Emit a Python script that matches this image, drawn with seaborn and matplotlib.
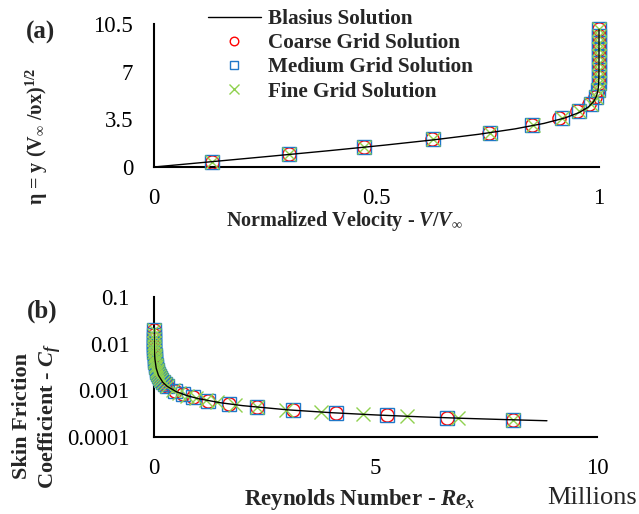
import matplotlib
matplotlib.use("Agg")
import matplotlib.pyplot as plt
import numpy as np
import pandas as pd
import seaborn as sns
from matplotlib.ticker import FixedLocator, FuncFormatter, NullLocator

# ---------------- Panel (a): velocity profile ----------------
blasius_eta = [0, 0.4, 0.8, 1.2, 1.6, 2.0, 2.4, 2.8, 3.2, 3.6, 4.0, 4.4, 4.8,
               5.2, 5.6, 6.0, 6.5, 7.0, 8.0, 9.0, 10.1]
blasius_u = [0, 0.1328, 0.2647, 0.3938, 0.5168, 0.6298, 0.7290, 0.8115, 0.8761,
             0.9233, 0.9555, 0.9759, 0.9878, 0.9943, 0.9975, 0.9990, 0.9997,
             0.9999, 1.0, 1.0, 1.0]

grid_eta = [0.37, 0.95, 1.47, 2.06, 2.50, 3.08, 3.60, 4.11, 4.63, 5.14,
            5.64, 6.14, 6.64, 7.14, 7.64, 8.14, 8.64, 9.14, 9.64, 10.1]
coarse_u = [0.130, 0.303, 0.472, 0.625, 0.753, 0.849, 0.909, 0.950, 0.977, 0.991,
            0.997, 0.999, 1.0, 1.0, 1.0, 1.0, 1.0, 1.0, 1.0, 1.0]
medium_u = [0.131, 0.304, 0.473, 0.626, 0.754, 0.850, 0.917, 0.956, 0.982, 0.994,
            0.998, 1.0, 1.0, 1.0, 1.0, 1.0, 1.0, 1.0, 1.0, 1.0]
fine_u = [0.131, 0.304, 0.473, 0.626, 0.754, 0.851, 0.916, 0.955, 0.981, 0.994,
          0.998, 1.0, 1.0, 1.0, 1.0, 1.0, 1.0, 1.0, 1.0, 1.0]

# ---------------- Panel (b): skin friction ----------------
blasius_re = [0.001, 0.002, 0.005, 0.01, 0.02, 0.05, 0.1, 0.2, 0.3, 0.5, 0.75,
              1.0, 1.5, 2.0, 3.0, 4.0, 5.0, 6.0, 7.0, 8.0, 8.87]
blasius_cf = [0.0210, 0.01485, 0.00939, 0.00664, 0.004695, 0.00297, 0.0021,
              0.001485, 0.001212, 0.000939, 0.000767, 0.000664, 0.000542,
              0.00047, 0.000383, 0.000332, 0.000297, 0.000271, 0.000251,
              0.000235, 0.000223]

cm_re = [0.0011, 0.0018, 0.0028, 0.004, 0.0055, 0.0075, 0.01, 0.013, 0.017,
         0.022, 0.028, 0.036, 0.046, 0.058, 0.073, 0.09, 0.11, 0.135, 0.165,
         0.2, 0.24, 0.29, 0.47, 0.65, 0.87, 1.23, 1.70, 2.32, 3.13, 4.11,
         5.27, 6.62, 8.10]
cm_cf = [0.02002, 0.01565, 0.01255, 0.0105, 0.00895, 0.00767, 0.00664, 0.00582,
         0.00509, 0.00448, 0.00397, 0.0035, 0.0031, 0.00276, 0.00246, 0.00221,
         0.002, 0.00181, 0.00163, 0.00148, 0.00136, 0.00123, 0.000969,
         0.000824, 0.000712, 0.000599, 0.000509, 0.000436, 0.000375,
         0.000328, 0.000289, 0.000258, 0.000233]

fine_re = [0.0011, 0.0018, 0.0028, 0.004, 0.0055, 0.0075, 0.01, 0.013, 0.017,
           0.022, 0.028, 0.036, 0.046, 0.058, 0.073, 0.09, 0.11, 0.135, 0.165,
           0.2, 0.24, 0.30, 0.42, 0.56, 0.74, 0.95, 1.17, 1.42, 1.83, 2.32,
           2.98, 3.76, 4.71, 5.70, 6.87, 8.10]
fine_cf = [0.02002, 0.01565, 0.01255, 0.0105, 0.00895, 0.00767, 0.00664,
           0.00582, 0.00509, 0.00448, 0.00397, 0.0035, 0.0031, 0.00276,
           0.00246, 0.00221, 0.002, 0.00181, 0.00163, 0.00148, 0.00136,
           0.001212, 0.001025, 0.000887, 0.000772, 0.000681, 0.000614,
           0.000557, 0.000491, 0.000436, 0.000385, 0.000342, 0.000306,
           0.000278, 0.000253, 0.000233]

legend_labels = ["Blasius Solution", "Coarse Grid Solution",
                 "Medium Grid Solution", "Fine Grid Solution"]

# ---------------- styling ----------------
sns.set_style("white")
plt.rcParams["font.family"] = ["Liberation Serif", "DejaVu Serif"]
plt.rcParams["mathtext.fontset"] = "custom"
plt.rcParams["mathtext.rm"] = "Liberation Serif:bold"
plt.rcParams["mathtext.it"] = "Liberation Serif:italic:bold"
plt.rcParams["mathtext.bf"] = "Liberation Serif:bold"

RED = "#FF0000"
BLUE = "#1F78C8"
GREEN = "#8FD14F"

fig = plt.figure(figsize=(6.39, 5.14), dpi=100)
ax1 = fig.add_axes([154 / 639, 1 - 167 / 514, (599 - 154) / 639, (167 - 24) / 514])
ax2 = fig.add_axes([154 / 639, 1 - 437 / 514, (597 - 154) / 639, (437 - 297) / 514])

marker_styles = [
    dict(marker="o", markersize=9.5, markerfacecolor="none", markeredgecolor=RED,
         markeredgewidth=1.0),
    dict(marker="s", markersize=9.5, markerfacecolor="none", markeredgecolor=BLUE,
         markeredgewidth=1.0),
    dict(marker="x", markersize=10, markerfacecolor="none", markeredgecolor=GREEN,
         markeredgewidth=1.0),
]


def scatter_series(ax, x, y, style, label):
    df = pd.DataFrame({"x": x, "y": y})
    sns.lineplot(data=df, x="x", y="y", ax=ax, estimator=None, sort=False,
                 linestyle="none", label=label, clip_on=False, zorder=3, **style)


# Panel (a)
sns.lineplot(data=pd.DataFrame({"u": blasius_u, "eta": blasius_eta}), x="u", y="eta",
             ax=ax1, estimator=None, sort=False, color="black", linewidth=1.0,
             label=legend_labels[0], zorder=4, clip_on=False)
scatter_series(ax1, coarse_u, grid_eta, marker_styles[0], legend_labels[1])
scatter_series(ax1, medium_u, grid_eta, marker_styles[1], legend_labels[2])
scatter_series(ax1, fine_u, grid_eta, marker_styles[2], legend_labels[3])

# Panel (b)
sns.lineplot(data=pd.DataFrame({"re": blasius_re, "cf": blasius_cf}), x="re", y="cf",
             ax=ax2, estimator=None, sort=False, color="black", linewidth=1.0,
             zorder=4)
scatter_series(ax2, cm_re, cm_cf, marker_styles[0], None)
scatter_series(ax2, cm_re, cm_cf, marker_styles[1], None)
scatter_series(ax2, fine_re, fine_cf, marker_styles[2], None)

for ax in (ax1, ax2):
    if ax.get_legend() is not None:
        ax.get_legend().remove()
    for s in ("top", "right"):
        ax.spines[s].set_visible(False)
    for s in ("left", "bottom"):
        ax.spines[s].set_color("black")
        ax.spines[s].set_linewidth(1.5)
    ax.tick_params(direction="in", length=6, width=1.5, labelsize=16.5, pad=15,
                   colors="black")
    ax.set_xlabel("")
    ax.set_ylabel("")
    ax.set_facecolor("none")
ax2.tick_params(axis="y", pad=17.5)

fmt = FuncFormatter(lambda v, p: "%g" % v)

ax1.set_xlim(0, 1)
ax1.set_ylim(0, 10.5)
ax1.xaxis.set_major_locator(FixedLocator([0, 0.5, 1]))
ax1.yaxis.set_major_locator(FixedLocator([0, 3.5, 7, 10.5]))
ax1.xaxis.set_major_formatter(fmt)
ax1.yaxis.set_major_formatter(fmt)

ax2.set_yscale("log")
ax2.set_xlim(0, 10)
ax2.set_ylim(1e-4, 0.1)
ax2.xaxis.set_major_locator(FixedLocator([0, 5, 10]))
ax2.yaxis.set_major_locator(FixedLocator([1e-4, 1e-3, 1e-2, 1e-1]))
ax2.yaxis.set_minor_locator(NullLocator())
ax2.xaxis.set_major_formatter(fmt)
ax2.yaxis.set_major_formatter(fmt)

# Labels
fig.text(344 / 639, 1 - 221 / 514, r"Normalized Velocity - $V/V_{\infty}$",
         ha="center", va="center", fontsize=14.5, fontweight="bold")
fig.text(37 / 639, 1 - 136 / 514, r"η = y (V$_{\infty}$ /υx)$^{1/2}$",
         ha="center", va="center", rotation=90, fontsize=14.5, fontweight="bold")
fig.text(360 / 639, 1 - 499 / 514, r"Reynolds Number - $Re_x$",
         ha="center", va="center", fontsize=16.5, fontweight="bold")
fig.text(592 / 639, 1 - 498 / 514, "Millions", ha="center", va="center",
         fontsize=19)
fig.text(37.5 / 639, 1 - 416 / 514, "Skin Friction\nCoefficient - $C_f$",
         ha="center", va="center", rotation=90, fontsize=16, fontweight="bold",
         multialignment="center", linespacing=1.25)
fig.text(26 / 639, 1 - 32.5 / 514, "(a)", ha="left", va="center", fontsize=18,
         fontweight="bold")
fig.text(27 / 639, 1 - 311 / 514, "(b)", ha="left", va="center", fontsize=18,
         fontweight="bold")

# Legend
handles, labels = ax1.get_legend_handles_labels()
order = [labels.index(l) for l in legend_labels]
fig.legend([handles[i] for i in order], legend_labels, loc="upper left",
           bbox_to_anchor=(208 / 639, 1 - 9 / 514), frameon=False,
           prop={"family": "Liberation Serif", "weight": "bold", "size": 15.2},
           handlelength=2.5, handletextpad=0.35, labelspacing=0.2,
           borderpad=0, borderaxespad=0, markerscale=0.65)

fig.savefig("out.png", dpi=100)
